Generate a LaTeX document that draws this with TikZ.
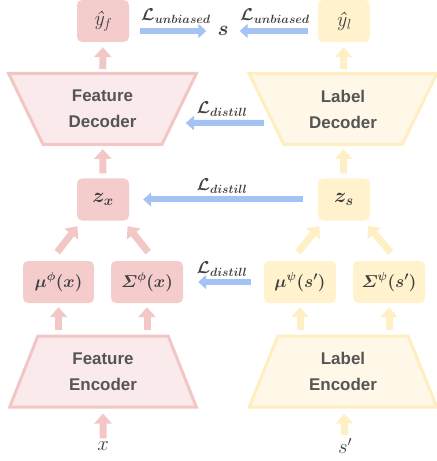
\documentclass[tikz,border=0pt]{standalone}
\usepackage{amsmath}
\usepackage{fontspec}
\usepackage{bm}
\setsansfont{Liberation Sans}
\usetikzlibrary{arrows.meta,shapes.geometric}
\definecolor{pinkbox}{HTML}{F4CCCC}
\definecolor{pinkline}{HTML}{F3C6C6}
\definecolor{pinkfill}{HTML}{FBEAEB}
\definecolor{pinkarrow}{HTML}{F4C7C7}
\definecolor{yelbox}{HTML}{FFF2CC}
\definecolor{yelline}{HTML}{FFEEC0}
\definecolor{yelfill}{HTML}{FFF8E9}
\definecolor{yelarrow}{HTML}{FFEFC4}
\definecolor{bluearrow}{HTML}{A4C2F4}
\definecolor{mathgray}{HTML}{404040}
\definecolor{textgray}{HTML}{555555}
\begin{document}
\begin{tikzpicture}[x=1bp,y=-1bp,
  box/.style={rectangle, rounded corners=5bp, minimum width=52bp, minimum height=42bp,
    inner sep=0pt, text=mathgray, font=\fontsize{21}{24}\selectfont},
  pbox/.style={box, fill=pinkbox},
  ybox/.style={box, fill=yelbox},
  wbox/.style={minimum width=72bp, font=\fontsize{18.5}{22}\selectfont},
  trap/.style={trapezium, trapezium stretches=true, line width=3bp, inner sep=0pt,
    minimum width=188bp, minimum height=71bp, align=center,
    font=\sffamily\bfseries\fontsize{17}{26}\selectfont, text=textgray},
  dec/.style={trap, shape border rotate=180, trapezium left angle=62.5, trapezium right angle=62.5},
  enc/.style={trap, trapezium left angle=68.8, trapezium right angle=68.8},
  mlabel/.style={inner sep=0pt, text=mathgray, font=\fontsize{21}{24}\selectfont},
  lossl/.style={inner sep=0pt, text=mathgray, font=\fontsize{17.5}{20}\selectfont},
  parr/.style={draw=pinkarrow, line width=7bp, -{Triangle[width=17bp,length=10bp]}},
  yarr/.style={draw=yelarrow, line width=7bp, -{Triangle[width=17bp,length=10bp]}},
  barr/.style={draw=bluearrow, line width=6bp, -{Triangle[width=14bp,length=8bp]}}
]
\useasboundingbox (0,0) rectangle (437,461);

% top outputs
\node[pbox] (yf) at (103,21) {\itshape ŷ$_f$};
\node[ybox] (yl) at (344,21) {\itshape ŷ\kern1bp$_l$};
\node[mlabel] (stgt) at (223,31) {$\bm{s}$};

% decoders
\node[dec, draw=pinkline, fill=pinkfill] (fdec) at (102.5,109) {Feature\\Decoder};
\node[dec, draw=yelline, fill=yelfill] (ldec) at (343,109) {Label\\Decoder};

% latent
\node[pbox] (zx) at (103,199.5) {$\bm{z_x}$};
\node[ybox] (zs) at (344,199.5) {$\bm{z_s}$};

% mean / variance
\node[pbox, wbox, minimum width=71bp] (muf) at (58.5,282) {$\bm{\mu^{\phi}(x)}$};
\node[pbox, wbox] (sigf) at (147,282) {$\bm{\varSigma^{\phi}(x)}$};
\node[ybox, wbox] (mul) at (300,282) {$\bm{\mu^{\psi}(s')}$};
\node[ybox, wbox] (sigl) at (389,282) {$\bm{\varSigma^{\psi}(s')}$};

% encoders
\node[enc, draw=pinkline, fill=pinkfill] (fenc) at (103,371.5) {Feature\\Encoder};
\node[enc, draw=yelline, fill=yelfill] (lenc) at (343,371.5) {Label\\Encoder};

% inputs
\node[mlabel] (xin) at (103,446) {$x$};
\node[mlabel] (sin) at (345,446) {$s'$};

% loss labels
\node[lossl] (lu1) at (176,16) {$\bm{\mathcal{L}_{unbiased}}$};
\node[lossl] (lu2) at (275,16) {$\bm{\mathcal{L}_{unbiased}}$};
\node[lossl] (ld1) at (222,109) {$\bm{\mathcal{L}_{distill}}$};
\node[lossl] (ld2) at (222,186) {$\bm{\mathcal{L}_{distill}}$};
\node[lossl] (ld3) at (222,269) {$\bm{\mathcal{L}_{distill}}$};

% pink arrows
\draw[parr, shorten <=3bp, shorten >=5bp] (xin) -- (fenc);
\draw[parr, shorten <=4bp, shorten >=4bp] (muf.south |- fenc.north) -- (muf);
\draw[parr, shorten <=4bp, shorten >=4bp] (sigf.south |- fenc.north) -- (sigf);
\draw[parr, shorten <=11bp, shorten >=7bp] ([xshift=-8bp]muf.north) -- ([xshift=5bp]zx.south west);
\draw[parr, shorten <=11bp, shorten >=7bp] ([xshift=8bp]sigf.north) -- ([xshift=-6bp]zx.south east);
\draw[parr, shorten <=5bp, shorten >=3bp] (zx) -- (fdec);
\draw[parr, shorten <=3bp, shorten >=5bp] (fdec) -- (yf);

% yellow arrows
\draw[yarr, shorten <=3bp, shorten >=5bp] (sin) -- (lenc);
\draw[yarr, shorten <=4bp, shorten >=4bp] (mul.south |- lenc.north) -- (mul);
\draw[yarr, shorten <=4bp, shorten >=4bp] (sigl.south |- lenc.north) -- (sigl);
\draw[yarr, shorten <=11bp, shorten >=7bp] ([xshift=-9bp]mul.north) -- ([xshift=6bp]zs.south west);
\draw[yarr, shorten <=11bp, shorten >=7bp] ([xshift=9bp]sigl.north) -- ([xshift=-7bp]zs.south east);
\draw[yarr, shorten <=5bp, shorten >=3bp] (zs) -- (ldec);
\draw[yarr, shorten <=3bp, shorten >=5bp] (ldec) -- (yl);

% blue arrows
\draw[barr, shorten <=11bp, shorten >=11bp] (yf.east |- stgt) -- (stgt);
\draw[barr, shorten <=10bp, shorten >=11bp] (yl.west |- stgt) -- (stgt);
\draw[barr, shorten <=1bp, shorten >=5bp] ([yshift=-14bp]ldec.west) -- ([yshift=-14bp]fdec.east);
\draw[barr, shorten <=15bp, shorten >=14bp] (zs) -- (zx);
\draw[barr, shorten <=13bp, shorten >=15bp] (mul) -- (sigf);
\end{tikzpicture}
\end{document}
